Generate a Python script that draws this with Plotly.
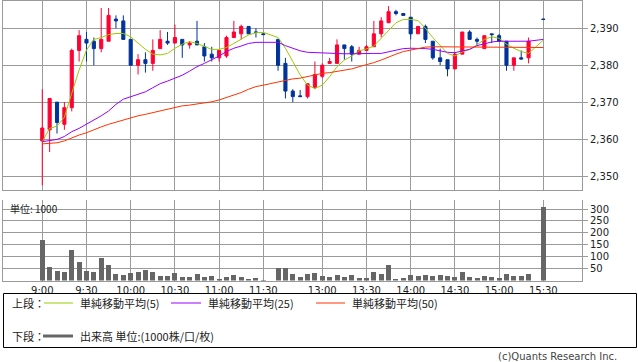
import plotly.graph_objects as go

# ---------------- data ----------------
times = ["9:00", "9:05", "9:10", "9:15", "9:20", "9:25", "9:30", "9:35", "9:40", "9:45",
         "9:50", "9:55", "10:00", "10:05", "10:10", "10:15", "10:20", "10:25", "10:30", "10:35",
         "10:40", "10:45", "10:50", "10:55", "11:00", "11:05", "11:10", "11:15", "11:20", "11:25",
         "11:30",
         "12:30", "12:35", "12:40", "12:45", "12:50", "12:55", "13:00", "13:05", "13:10", "13:15",
         "13:20", "13:25", "13:30", "13:35", "13:40", "13:45", "13:50", "13:55", "14:00", "14:05",
         "14:10", "14:15", "14:20", "14:25", "14:30", "14:35", "14:40", "14:45", "14:50", "14:55",
         "15:00", "15:05", "15:10", "15:15", "15:20", "15:30"]

opens = [2359.5, 2362.5, 2370, 2364, 2368.5, 2384, 2387, 2386.5, 2384.5, 2386.5,
         2392.5, 2392, 2387, 2380, 2381.5, 2380.5, 2384.5, 2386.5, 2386, 2387,
         2385.5, 2386.5, 2385, 2383, 2382, 2382.5, 2387.5, 2388.5, 2390.5, 2389,
         2388.5,
         2387, 2380.5, 2373, 2371.7, 2371.5, 2374, 2377, 2380.5, 2380.5, 2385.5,
         2385, 2383, 2384, 2385, 2388.5, 2391.5, 2394.5, 2394, 2393, 2388.5,
         2390.5, 2386.5, 2382, 2381.5, 2379, 2383, 2389, 2387, 2384.5, 2388.5,
         2388, 2386.5, 2380, 2382, 2382, 2392.5]
highs = [2373.5, 2371, 2370, 2370, 2384.5, 2389.5, 2389, 2387.5, 2395.5, 2395.5,
         2393.5, 2393.5, 2387, 2383, 2383.5, 2387, 2389.5, 2389, 2391, 2387,
         2386.5, 2392, 2386, 2385, 2384, 2388, 2392, 2391, 2390.5, 2390,
         2388.5,
         2387, 2382, 2373.5, 2373.3, 2375, 2381, 2380.5, 2382, 2387, 2385.5,
         2385.5, 2385, 2385.5, 2392, 2393, 2396, 2395, 2394, 2393, 2390.5,
         2391, 2386.5, 2384.5, 2381.5, 2383.5, 2389, 2389.5, 2387.5, 2388, 2388.5,
         2388.5, 2386.5, 2382, 2384, 2387.5, 2392.5]
lows = [2347.5, 2356.5, 2361.5, 2362.5, 2367.5, 2381, 2381, 2380, 2383.5, 2386.5,
        2390, 2387, 2380, 2377.5, 2378, 2378.5, 2384.5, 2385.5, 2386, 2382,
        2384.5, 2385.5, 2381, 2381, 2381, 2382, 2387.5, 2387, 2388.5, 2387.5,
        2388.3,
        2378.5, 2371, 2370, 2371.5, 2371, 2373.5, 2376.5, 2380.5, 2380.5, 2381.5,
        2381, 2383, 2384, 2385, 2387.5, 2391.5, 2393.5, 2393.5, 2387, 2388.5,
        2386, 2381.5, 2380, 2377, 2379, 2383, 2387, 2385.5, 2384.5, 2386,
        2386.5, 2378.5, 2378.5, 2381.5, 2380.5, 2392.4]
closes = [2363, 2371, 2364.5, 2368.5, 2384, 2388, 2386, 2384.5, 2387, 2393.5,
          2392, 2387, 2380, 2381.5, 2380.5, 2384, 2387, 2386, 2387.5, 2385.5,
          2386, 2385.5, 2382.5, 2382, 2384, 2387.5, 2389, 2390.5, 2388.5, 2388.9,
          2388.3,
          2380, 2373, 2371.5, 2371.5, 2375, 2377.5, 2380, 2381, 2385.5, 2384.5,
          2383, 2384, 2385, 2388.5, 2392, 2394.5, 2394, 2393.5, 2388.5, 2390.5,
          2387, 2382, 2381, 2379, 2383, 2389, 2387, 2386.5, 2388, 2388.3,
          2386.5, 2380, 2382, 2381.7, 2386.5, 2392.4]
volume = [170, 57, 40, 36, 129, 78, 40, 36, 95, 65,
          28, 23, 32, 36, 44, 36, 19, 19, 32, 15,
          15, 28, 15, 19, 7, 15, 23, 15, 7, 10,
          2,
          52, 52, 28, 15, 28, 32, 19, 15, 23, 15,
          23, 10, 10, 36, 28, 65, 7, 10, 23, 19,
          23, 19, 23, 19, 15, 36, 15, 10, 19, 15,
          10, 28, 19, 19, 28, 310]
ma5 = [2359.3, 2362.9, 2363.5, 2365.9, 2372.4, 2378.7, 2384.1, 2387.0, 2387.5, 2388.3,
       2388.6, 2388.6, 2387.7, 2386.1, 2384.3, 2383.0, 2382.8, 2383.2, 2384.6, 2385.7,
       2386.4, 2385.9, 2385.0, 2384.3, 2384.3, 2384.8, 2385.9, 2387.0, 2388.2, 2388.8,
       2388.9,
       2387.5, 2384.6, 2381.0, 2377.4, 2374.6, 2373.7, 2374.6, 2376.9, 2379.6, 2381.4,
       2382.5, 2383.9, 2384.4, 2385.2, 2387.3, 2389.5, 2391.5, 2392.4, 2392.4, 2392.1,
       2390.0, 2387.5, 2385.2, 2383.2, 2382.5, 2383.6, 2384.3, 2385.5, 2387.0, 2387.7,
       2387.3, 2385.7, 2384.6, 2383.7, 2383.2, 2386.8]
ma25 = [2359.3, 2359.5, 2359.9, 2360.7, 2362.0, 2362.9, 2364.0, 2365.0, 2366.3, 2367.6,
        2369.4, 2370.8, 2371.5, 2372.1, 2372.8, 2373.9, 2375.0, 2375.7, 2376.4, 2377.3,
        2378.4, 2379.6, 2380.5, 2381.4, 2382.5, 2383.7, 2384.6, 2385.2, 2385.9, 2386.2,
        2386.2,
        2386.2, 2385.3, 2384.6, 2383.9, 2383.5, 2383.4, 2383.2, 2383.2, 2383.2, 2383.1,
        2383.1, 2383.2, 2383.2, 2383.2, 2383.2, 2383.6, 2384.2, 2384.5, 2384.6, 2384.6,
        2384.5, 2384.3, 2383.9, 2383.5, 2383.4, 2383.8, 2384.3, 2385.3, 2385.9, 2386.3,
        2386.5, 2386.5, 2386.5, 2386.5, 2386.5, 2387.0]
ma50 = [2358.7, 2358.9, 2359.0, 2359.5, 2360.4, 2361.1, 2361.7, 2362.6, 2363.3, 2364.0,
        2364.6, 2365.3, 2365.9, 2366.3, 2366.7, 2367.2, 2367.6, 2368.1, 2368.6, 2369.0,
        2369.2, 2369.5, 2369.9, 2370.1, 2370.6, 2371.2, 2371.9, 2372.6, 2373.5, 2374.2,
        2374.6,
        2375.5, 2376.0, 2376.3, 2376.5, 2377.0, 2377.4, 2377.8, 2378.0, 2378.3, 2378.5,
        2379.0, 2379.6, 2380.1, 2380.7, 2381.4, 2382.3, 2383.0, 2383.7, 2384.1, 2384.6,
        2384.9, 2385.0, 2385.0, 2384.9, 2384.9, 2384.8, 2384.8, 2384.8, 2384.8, 2384.8,
        2384.8, 2384.8, 2384.8, 2384.8, 2384.8, 2384.8]

tick_labels = ["9:00", "9:30", "10:00", "10:30", "11:00", "11:30",
               "13:00", "13:30", "14:00", "14:30", "15:00", "15:30"]
price_ticks = [2350, 2360, 2370, 2380, 2390]
vol_ticks = [50, 100, 150, 200, 250, 300]


# time -> slot on a compressed session axis (5-minute slots, lunch break removed)
def slot(t):
    h, m = map(int, t.split(":"))
    mins = h * 60 + m
    if mins <= 11 * 60 + 35:
        return (mins - 9 * 60) // 5
    return 32 + (mins - (12 * 60 + 30)) // 5


xs = [slot(t) for t in times]
tickvals = [slot(t) for t in tick_labels]

W, H = 638, 362
GRID = "#9a9a9a"
TXT = "#222222"
FONT = "DejaVu Sans"
JFONT = "Noto Sans CJK JP"

fig = go.Figure()
fig.add_trace(go.Candlestick(
    x=xs, open=opens, high=highs, low=lows, close=closes,
    increasing=dict(line=dict(color="#ff0033", width=1), fillcolor="#ff0033"),
    decreasing=dict(line=dict(color="#003399", width=1), fillcolor="#003399"),
    whiskerwidth=0, xaxis="x", yaxis="y", hoverinfo="skip"))
fig.add_trace(go.Scatter(x=xs, y=ma5, mode="lines", line=dict(color="#99cc00", width=1),
                         xaxis="x", yaxis="y"))
fig.add_trace(go.Scatter(x=xs, y=ma25, mode="lines", line=dict(color="#9900ff", width=1),
                         xaxis="x", yaxis="y"))
fig.add_trace(go.Scatter(x=xs, y=ma50, mode="lines", line=dict(color="#ff3300", width=1),
                         xaxis="x", yaxis="y"))
fig.add_trace(go.Bar(x=xs, y=volume, width=0.68, marker=dict(color="#666666", line=dict(width=0)),
                     xaxis="x2", yaxis="y2"))

xdom = [3 / W, 582 / W]
xr = [-5.33, 73.25]
main_top, main_bot = 1.0, 190.0
vol_top, vol_bot = 200.0, 280.6

common_x = dict(domain=xdom, range=xr, tickvals=tickvals, showgrid=True, gridcolor=GRID,
                gridwidth=1, zeroline=False, fixedrange=True)
fig.update_layout(
    width=W, height=H, margin=dict(l=0, r=0, t=0, b=0),
    paper_bgcolor="white", plot_bgcolor="white", showlegend=False,
    boxgap=0.4, bargap=0,
    xaxis=dict(**common_x, anchor="y", showticklabels=False, ticks="",
               showline=True, mirror=True, linecolor=GRID, linewidth=1,
               rangeslider=dict(visible=False)),
    yaxis=dict(domain=[1 - main_bot / H, 1 - main_top / H],
               range=[2350 - (main_bot - 176.0) / 3.6925, 2390 + (28.3 - main_top) / 3.6925],
               side="right", tickvals=price_ticks, tickformat=",d",
               ticks="outside", ticklen=5, tickcolor=GRID, tickwidth=1,
               tickfont=dict(family=FONT, size=10, color=TXT),
               showgrid=True, gridcolor=GRID, gridwidth=1, zeroline=False,
               showline=True, mirror=True, linecolor=GRID, linewidth=1),
    xaxis2=dict(**common_x, anchor="y2", ticktext=tick_labels, ticks="",
                tickfont=dict(family=FONT, size=10, color=TXT),
                showline=True, linecolor=GRID, linewidth=1),
    yaxis2=dict(domain=[1 - vol_bot / H, 1 - vol_top / H],
                range=[0, 300 * (vol_bot - vol_top) / (vol_bot - 209.0)],
                side="right", tickvals=vol_ticks,
                ticks="outside", ticklen=5, tickcolor=GRID, tickwidth=1,
                tickfont=dict(family=FONT, size=10, color=TXT),
                showgrid=True, gridcolor=GRID, gridwidth=1, zeroline=False,
                showline=True, mirror=True, linecolor=GRID, linewidth=1),
)


def px(x):
    return x / W


def py(y):
    return 1 - y / H


ann = []
shapes = []
ann.append(dict(text="単位: 1000", x=px(8), y=py(208), xref="paper", yref="paper",
                xanchor="left", yanchor="middle", showarrow=False,
                font=dict(family=JFONT, size=10, color=TXT)))
# legend box
shapes.append(dict(type="rect", xref="paper", yref="paper", x0=px(3.5), x1=px(636.5),
                   y0=py(293.5), y1=py(347.5), line=dict(color="#000000", width=1)))
row1, row2 = 303, 336
legend_items = [("上段：", 10, None, None, None),
                ("単純移動平均(5)", 78, 44, 73, "#99cc00"),
                ("単純移動平均(25)", 206, 171, 201, "#9900ff"),
                ("単純移動平均(50)", 350, 316, 345, "#ff3300")]
for text, tx, l0, l1, col in legend_items:
    ann.append(dict(text=text, x=px(tx), y=py(row1), xref="paper", yref="paper",
                    xanchor="left", yanchor="middle", showarrow=False,
                    font=dict(family=JFONT, size=11, color=TXT)))
    if col:
        shapes.append(dict(type="line", xref="paper", yref="paper", x0=px(l0), x1=px(l1),
                           y0=py(row1), y1=py(row1), line=dict(color=col, width=1)))
ann.append(dict(text="下段：", x=px(10), y=py(row2), xref="paper", yref="paper",
                xanchor="left", yanchor="middle", showarrow=False,
                font=dict(family=JFONT, size=11, color=TXT)))
shapes.append(dict(type="line", xref="paper", yref="paper", x0=px(43), x1=px(73),
                   y0=py(row2), y1=py(row2), line=dict(color="#666666", width=3)))
ann.append(dict(text="出来高 単位:(1000株/口/枚)", x=px(78), y=py(row2), xref="paper", yref="paper",
                xanchor="left", yanchor="middle", showarrow=False,
                font=dict(family=JFONT, size=11, color=TXT)))
ann.append(dict(text="(c)Quants Research Inc.", x=px(619), y=py(356), xref="paper", yref="paper",
                xanchor="right", yanchor="middle", showarrow=False,
                font=dict(family=FONT, size=10, color="#444444")))
fig.update_layout(annotations=ann, shapes=shapes)

fig.write_html("out.html", config={"displayModeBar": False},
               post_script="document.body.style.margin='0px';document.body.style.overflow='hidden';")
